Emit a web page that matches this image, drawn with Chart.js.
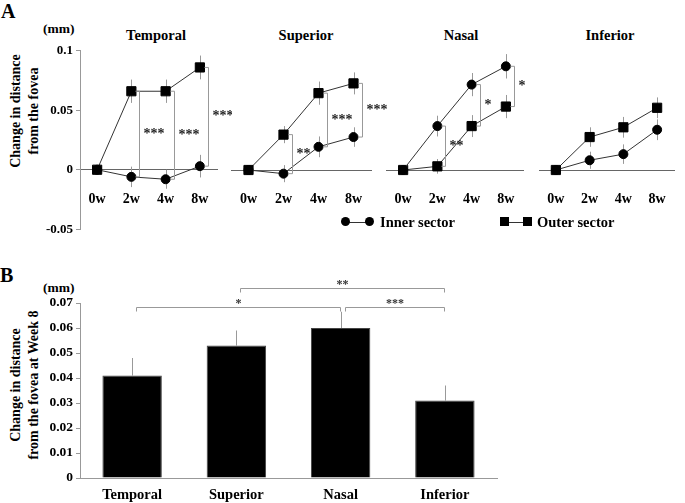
<!DOCTYPE html>
<html>
<head>
<meta charset="utf-8">
<script src="https://cdn.jsdelivr.net/npm/chart.js@4.4.0/dist/chart.umd.min.js"></script>
<style>
  html, body { margin: 0; padding: 0; background: #fff; }
  #fig { position: relative; width: 685px; height: 503px; overflow: hidden;
         font-family: "Liberation Serif", "Times New Roman", serif; font-weight: bold; color: #000; }
  #fig canvas { position: absolute; }
  .lbl { position: absolute; white-space: nowrap; }
  .ptitle { position: absolute; width: 120px; text-align: center; font-size: 14.5px; line-height: 18px; }
  .ytitle { position: absolute; width: 200px; height: 36px; text-align: center; font-size: 14px;
            line-height: 18px; white-space: nowrap; transform: rotate(-90deg); }
  .dot { position: absolute; width: 9px; height: 9px; border-radius: 50%; background: #000; }
  .sq { position: absolute; width: 9px; height: 9px; background: #000; }
  .seg { position: absolute; height: 1px; background: #333; }
</style>
</head>
<body>
<div id="fig">
  <div class="lbl" style="left:1px;top:1px;font-size:20px;line-height:20px;">A</div>
  <div class="lbl" style="left:43px;top:21px;font-size:13.5px;line-height:16px;">(mm)</div>
  <div class="ytitle" style="left:-75px;top:93px;">Change in distance<br>from the fovea</div>

  <div class="ptitle" style="left:96px;top:26px;">Temporal</div>
  <div class="ptitle" style="left:246px;top:26px;">Superior</div>
  <div class="ptitle" style="left:401px;top:26px;">Nasal</div>
  <div class="ptitle" style="left:550px;top:26px;">Inferior</div>

  <canvas id="sec0" width="232" height="200" style="left:0px;top:40px;"></canvas>
  <canvas id="sec1" width="162" height="200" style="left:231px;top:40px;"></canvas>
  <canvas id="sec2" width="152" height="200" style="left:386px;top:40px;"></canvas>
  <canvas id="sec3" width="146" height="200" style="left:539px;top:40px;"></canvas>

  <!-- legend -->
  <div class="seg" style="left:346px;top:222px;width:24px;"></div>
  <div class="dot" style="left:341px;top:217px;"></div>
  <div class="dot" style="left:365px;top:217px;"></div>
  <div class="lbl" style="left:380px;top:213px;font-size:14.5px;line-height:18px;">Inner sector</div>
  <div class="seg" style="left:505px;top:222px;width:23px;"></div>
  <div class="sq" style="left:500px;top:217px;"></div>
  <div class="sq" style="left:523px;top:217px;"></div>
  <div class="lbl" style="left:537px;top:213px;font-size:14.5px;line-height:18px;">Outer sector</div>

  <div class="lbl" style="left:0px;top:265px;font-size:20px;line-height:20px;">B</div>
  <div class="lbl" style="left:43px;top:280px;font-size:13.5px;line-height:16px;">(mm)</div>
  <div class="ytitle" style="left:-75px;top:367px;">Change in distance<br>from the fovea at Week 8</div>

  <canvas id="week8" width="500" height="233" style="left:0px;top:270px;"></canvas>
</div>

<script>
// time points and sectors
const weeks = ["0w", "2w", "4w", "8w"];
const sectors = ["Temporal", "Superior", "Nasal", "Inferior"];

// panel A: mean change (mm)
const innerTemporal = [0, -0.006, -0.008, 0.003];
const outerTemporal = [0, 0.066, 0.066, 0.086];
const innerSuperior = [0, -0.003, 0.019, 0.027];
const outerSuperior = [0, 0.029, 0.063, 0.071];
const innerNasal = [0, 0.036, 0.070, 0.085];
const outerNasal = [0, 0.003, 0.036, 0.052];
const innerInferior = [0, 0.008, 0.013, 0.033];
const outerInferior = [0, 0.027, 0.035, 0.051];

// panel A: error bars
const innerTemporalErr = [0, 0.0086, 0.008, 0.0095];
const outerTemporalErr = [0, 0.0098, 0.0098, 0.010];
const innerSuperiorErr = [0, 0.007, 0.0085, 0.008];
const outerSuperiorErr = [0, 0.007, 0.0095, 0.009];
const innerNasalErr = [0, 0.0085, 0.0095, 0.010];
const outerNasalErr = [0, 0.006, 0.009, 0.0095];
const innerInferiorErr = [0, 0.007, 0.008, 0.0085];
const outerInferiorErr = [0, 0.008, 0.0085, 0.0085];

// panel A: inner vs outer significance
const sigTemporal = ["", "***", "***", "***"];
const sigSuperior = ["", "**", "***", "***"];
const sigNasal = ["", "**", "*", "*"];
const sigInferior = ["", "", "", ""];

const yTicksA = ["-0.05", "0", "0.05", "0.1"];

// panel B: change at week 8
const week8Values = [0.041, 0.053, 0.060, 0.031];
const week8Err = [0.007, 0.006, 0.0065, 0.006];
const week8Pairs = [[0, 2, "*"], [1, 3, "**"], [2, 3, "***"]];
const yTicksB = ["0", "0.01", "0.02", "0.03", "0.04", "0.05", "0.06", "0.07"];

const SERIF = "'Liberation Serif', 'Times New Roman', serif";
Chart.defaults.font.family = SERIF;
Chart.defaults.font.weight = "bold";
Chart.defaults.color = "#000";

// vertical error bars, drawn under the markers
const errorBars = {
  id: "errorBars",
  beforeDatasetsDraw(chart) {
    const ctx = chart.ctx;
    const y = chart.scales.y;
    ctx.save();
    ctx.strokeStyle = "#999";
    ctx.lineWidth = 1;
    chart.data.datasets.forEach((ds, di) => {
      if (!ds.errors) return;
      const meta = chart.getDatasetMeta(di);
      meta.data.forEach((el, i) => {
        const e = ds.errors[i];
        if (!e) return;
        const v = ds.data[i];
        const top = y.getPixelForValue(v + e);
        const bot = ds.upOnly ? y.getPixelForValue(v) : y.getPixelForValue(v - e);
        const x = Math.round(el.x) + 0.5;
        ctx.beginPath();
        ctx.moveTo(x, bot);
        ctx.lineTo(x, top);
        ctx.stroke();
      });
    });
    ctx.restore();
  }
};

// "]" brackets between inner and outer at each week
const sectorBrackets = {
  id: "sectorBrackets",
  afterDatasetsDraw(chart, args, opts) {
    const marks = opts.marks || [];
    const ctx = chart.ctx;
    const y = chart.scales.y;
    const a = chart.data.datasets[0].data;
    const b = chart.data.datasets[1].data;
    ctx.save();
    ctx.strokeStyle = "#999";
    ctx.lineWidth = 1;
    ctx.fillStyle = "#222";
    ctx.font = "bold 14px " + SERIF;
    ctx.textBaseline = "middle";
    ctx.textAlign = "left";
    marks.forEach((m, i) => {
      if (!m) return;
      const px = chart.scales.x.getPixelForValue(i);
      const x = Math.round(px + 8) + 0.5;
      const t = y.getPixelForValue(Math.max(a[i], b[i]));
      const bt = y.getPixelForValue(Math.min(a[i], b[i]));
      ctx.beginPath();
      ctx.moveTo(x - 4, t);
      ctx.lineTo(x, t);
      ctx.lineTo(x, bt);
      ctx.lineTo(x - 4, bt);
      ctx.stroke();
      ctx.fillText(m, x + 4, (t + bt) / 2);
    });
    ctx.restore();
  }
};

function sectorChart(id, inner, outer, innerErr, outerErr, sig, showY, padRight) {
  const canvas = document.getElementById(id);
  return new Chart(canvas, {
    type: "line",
    data: {
      labels: weeks,
      datasets: [
        {
          label: "Inner sector", data: inner, errors: innerErr,
          borderColor: "#333", borderWidth: 1,
          pointStyle: "circle", pointRadius: 4.5,
          pointBackgroundColor: "#000", pointBorderColor: "#000"
        },
        {
          label: "Outer sector", data: outer, errors: outerErr,
          borderColor: "#333", borderWidth: 1,
          pointStyle: "rect", pointRadius: 6.5,
          pointBackgroundColor: "#000", pointBorderColor: "#000"
        }
      ]
    },
    options: {
      responsive: false,
      animation: false,
      layout: { autoPadding: false, padding: { top: 8, bottom: 9, left: 0, right: padRight } },
      plugins: {
        legend: { display: false },
        tooltip: { enabled: false },
        sectorBrackets: { marks: sig }
      },
      scales: {
        x: {
          position: { y: 0 },
          offset: true,
          afterFit: s => { s.height = 0; s.paddingLeft = 0; s.paddingRight = 0; },
          grid: { display: false, drawTicks: false },
          border: { color: "#666" },
          ticks: { padding: 21, maxRotation: 0, font: { size: 14, weight: "bold" } }
        },
        y: {
          display: showY,
          min: -0.05,
          max: 0.1,
          afterFit: s => { s.width = showY ? 80 : 0; },
          grid: { drawOnChartArea: false, tickLength: 4, color: "#999" },
          border: { color: "#999" },
          ticks: {
            stepSize: 0.05, padding: 3,
            font: { size: 13, weight: "bold" },
            callback: (v, i) => yTicksA[i]
          }
        }
      }
    },
    plugins: [errorBars, sectorBrackets]
  });
}

sectorChart("sec0", innerTemporal, outerTemporal, innerTemporalErr, outerTemporalErr, sigTemporal, true, 15);
sectorChart("sec1", innerSuperior, outerSuperior, innerSuperiorErr, outerSuperiorErr, sigSuperior, false, 22);
sectorChart("sec2", innerNasal, outerNasal, innerNasalErr, outerNasalErr, sigNasal, false, 15);
sectorChart("sec3", innerInferior, outerInferior, innerInferiorErr, outerInferiorErr, sigInferior, false, 11);

// comparison brackets above the bars in panel B
const pairBrackets = {
  id: "pairBrackets",
  afterDatasetsDraw(chart, args, opts) {
    const ctx = chart.ctx;
    const x = chart.scales.x;
    const y = chart.scales.y;
    const levels = [0.0684, 0.076, 0.0684];
    ctx.save();
    ctx.strokeStyle = "#999";
    ctx.lineWidth = 1;
    ctx.fillStyle = "#333";
    ctx.font = "bold 12px " + SERIF;
    ctx.textAlign = "center";
    ctx.textBaseline = "middle";
    opts.pairs.forEach((p, k) => {
      const x1 = Math.round(x.getPixelForValue(p[0]) + 4) + 0.5;
      const x2 = Math.round(x.getPixelForValue(p[1]) - 1) + 0.5;
      const ly = Math.round(y.getPixelForValue(levels[k])) + 0.5;
      ctx.beginPath();
      ctx.moveTo(x1, ly + 4);
      ctx.lineTo(x1, ly);
      ctx.lineTo(x2, ly);
      ctx.lineTo(x2, ly + 4);
      ctx.stroke();
      ctx.fillText(p[2], (x1 + x2) / 2, ly - 4);
    });
    ctx.restore();
  }
};

new Chart(document.getElementById("week8"), {
  type: "bar",
  data: {
    labels: sectors,
    datasets: [{
      data: week8Values,
      errors: week8Err,
      upOnly: true,
      backgroundColor: "#000",
      borderColor: "#444",
      borderWidth: 1,
      barPercentage: 0.57,
      categoryPercentage: 1
    }]
  },
  options: {
    responsive: false,
    animation: false,
    layout: { padding: { top: 33, bottom: 0, left: 0, right: 3 } },
    plugins: {
      legend: { display: false },
      tooltip: { enabled: false },
      pairBrackets: { pairs: week8Pairs }
    },
    scales: {
      x: {
        afterFit: s => { s.height = 25; },
        grid: { display: false, drawTicks: false },
        border: { color: "#999" },
        ticks: { padding: 9, font: { size: 14.5, weight: "bold" } }
      },
      y: {
        min: 0,
        max: 0.07,
        afterFit: s => { s.width = 80; },
        grid: { drawOnChartArea: false, tickLength: 4, color: "#999" },
        border: { color: "#999" },
        ticks: {
          stepSize: 0.01, padding: 3,
          font: { size: 13.5, weight: "bold" },
          callback: (v, i) => yTicksB[i]
        }
      }
    }
  },
  plugins: [errorBars, pairBrackets]
});
</script>
</body>
</html>
